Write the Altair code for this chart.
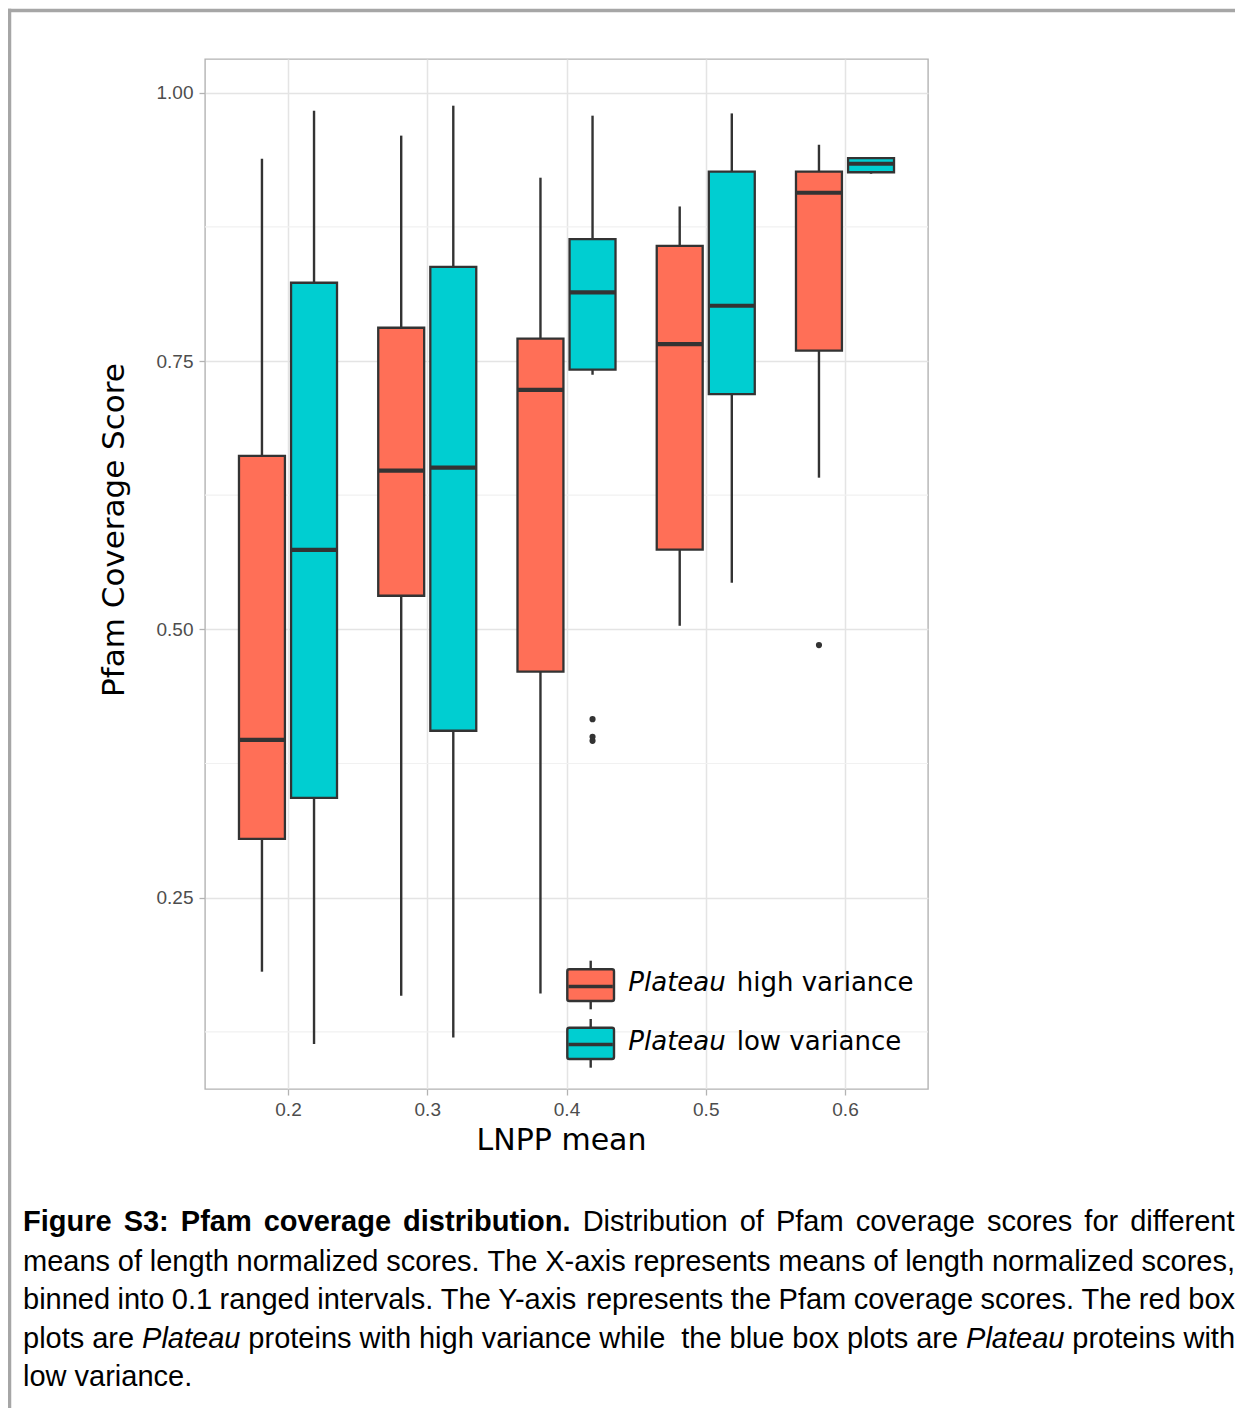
import altair as alt
import pandas as pd

# ---------------- data ----------------
bins = [0.2, 0.2, 0.3, 0.3, 0.4, 0.4, 0.5, 0.5, 0.6, 0.6]
groups = ["high", "low", "high", "low", "high", "low", "high", "low", "high", "low"]
lower = [0.181, 0.1136, 0.1586, 0.1198, 0.1607, 0.7372, 0.5033, 0.5434, 0.6413, 0.9245]
q1 = [0.3048, 0.343, 0.5313, 0.4055, 0.4605, 0.7419, 0.5742, 0.7192, 0.7596, 0.9259]
median = [0.397, 0.5741, 0.6478, 0.6506, 0.7232, 0.8139, 0.7658, 0.8015, 0.9068, 0.9338]
q3 = [0.6617, 0.8229, 0.781, 0.8378, 0.7708, 0.8635, 0.8572, 0.9264, 0.9264, 0.939]
upper = [0.9385, 0.9832, 0.96, 0.9879, 0.9208, 0.9786, 0.894, 0.9807, 0.9515, 0.939]

out_bins = [0.4, 0.4, 0.4, 0.6]
out_groups = ["low", "low", "low", "high"]
out_values = [0.4163, 0.3998, 0.3961, 0.4853]

x_ticks = [0.2, 0.3, 0.4, 0.5, 0.6]
y_ticks = [0.25, 0.50, 0.75, 1.00]
y_minor = [0.125, 0.375, 0.625, 0.875]

group_names = ["high", "low"]
group_colors = ["#FF6F57", "#00CED1"]
legend_words = ["high variance", "low variance"]

x_title = "LNPP mean"
y_title = "Pfam Coverage Score"

caption_lines = [
    [("Figure S3: Pfam coverage distribution.", "bold"),
     ("Distribution of Pfam coverage scores for different", "normal")],
    [("means of length normalized scores. The X-axis represents means of length normalized scores,", "normal")],
    [("binned into 0.1 ranged intervals. The Y-axis represents the Pfam coverage scores. The red box", "normal")],
    [("plots are", "normal"), ("Plateau", "italic"),
     ("proteins with high variance while  the blue box plots are", "normal"),
     ("Plateau", "italic"), ("proteins with", "normal")],
    [("low variance.", "normal")],
]
caption_justified = [True, True, True, True, False]

# ---------------- tables ----------------
box_df = pd.DataFrame({"bin": bins, "group": groups, "lower": lower, "q1": q1,
                       "median": median, "q3": q3, "upper": upper})
out_df = pd.DataFrame({"bin": out_bins, "group": out_groups, "value": out_values})
minor_df = pd.DataFrame({"v": y_minor})
one = pd.DataFrame({"a": [0]})

DODGE = 0.0187
HALF = 0.0165
INK = "#333333"

xscale = alt.Scale(domain=[0.1404, 0.6596], nice=False, zero=False)
yscale = alt.Scale(domain=[0.0717, 1.0314], nice=False, zero=False)
fill_scale = alt.Scale(domain=group_names, range=group_colors)

x_axis = alt.Axis(values=x_ticks, format=".1f", title=x_title, grid=True,
                  gridColor="#e4e4e4", gridWidth=1.5, domain=False,
                  tickColor="#b3b3b3", tickSize=6, tickWidth=1.3,
                  labelFont="Liberation Sans", labelFontSize=19, labelColor="#4d4d4d",
                  labelPadding=5,
                  titleFont="DejaVu Sans", titleFontSize=30, titleFontWeight="normal",
                  titleColor="black", titleX=356, titleY=60, titleAlign="center",
                  titleBaseline="alphabetic")
y_axis = alt.Axis(values=y_ticks, format=".2f", title=y_title, grid=True,
                  gridColor="#e4e4e4", gridWidth=1.5, domain=False,
                  tickColor="#b3b3b3", tickSize=6, tickWidth=1.3,
                  labelFont="Liberation Sans", labelFontSize=19, labelColor="#4d4d4d",
                  labelPadding=6,
                  titleFont="DejaVu Sans", titleFontSize=31, titleFontWeight="normal",
                  titleColor="black", titleX=-82, titleY=470.5, titleAlign="center",
                  titleBaseline="alphabetic")

base = alt.Chart(box_df).transform_calculate(
    pos=f"datum.bin + (datum.group == 'high' ? -{DODGE} : {DODGE})"
).transform_calculate(
    left=f"datum.pos - {HALF}", right=f"datum.pos + {HALF}"
)

minor = alt.Chart(minor_df).mark_rule(color="#f1f1f1", strokeWidth=1.2).encode(
    y=alt.Y("v:Q", scale=yscale, axis=y_axis)
)

whisk_hi = base.mark_rule(color=INK, strokeWidth=2.4).encode(
    x=alt.X("pos:Q", scale=xscale, axis=x_axis),
    y=alt.Y("q3:Q", scale=yscale, axis=y_axis),
    y2="upper:Q",
)
whisk_lo = base.mark_rule(color=INK, strokeWidth=2.4).encode(
    x=alt.X("pos:Q", scale=xscale, axis=x_axis),
    y=alt.Y("lower:Q", scale=yscale, axis=y_axis),
    y2="q1:Q",
)
boxes = base.mark_rect(stroke=INK, strokeWidth=2.3).encode(
    x=alt.X("left:Q", scale=xscale, axis=x_axis),
    x2="right:Q",
    y=alt.Y("q1:Q", scale=yscale, axis=y_axis),
    y2="q3:Q",
    fill=alt.Fill("group:N", scale=fill_scale, legend=None),
)
medians = base.mark_rule(color=INK, strokeWidth=4.2).encode(
    x=alt.X("left:Q", scale=xscale, axis=x_axis),
    x2="right:Q",
    y=alt.Y("median:Q", scale=yscale, axis=y_axis),
)
outliers = alt.Chart(out_df).transform_calculate(
    pos=f"datum.bin + (datum.group == 'high' ? -{DODGE} : {DODGE})"
).mark_circle(size=38, color=INK, opacity=1).encode(
    x=alt.X("pos:Q", scale=xscale, axis=x_axis),
    y=alt.Y("value:Q", scale=yscale, axis=y_axis),
)

layers = [minor, whisk_hi, whisk_lo, boxes, medians, outliers]

# ---------------- manual legend (inside panel, bottom right) ----------------
leg_rows = [
    {"top": 910.3, "bottom": 942.0, "mid": 927.5, "wt": 901.7, "wb": 950.3, "base": 931.7},
    {"top": 968.7, "bottom": 1000.0, "mid": 985.5, "wt": 960.0, "wb": 1008.7, "base": 991.0},
]
for row, color, word in zip(leg_rows, group_colors, legend_words):
    layers.append(alt.Chart(one).mark_rule(color=INK, strokeWidth=2.4).encode(
        x=alt.value(385.7), y=alt.value(row["wt"]), y2=alt.value(row["wb"])))
    layers.append(alt.Chart(one).mark_rect(fill=color, stroke=INK, strokeWidth=2.4,
                                           cornerRadius=2).encode(
        x=alt.value(362.3), x2=alt.value(409.0),
        y=alt.value(row["top"]), y2=alt.value(row["bottom"])))
    layers.append(alt.Chart(one).mark_rule(color=INK, strokeWidth=3.5).encode(
        x=alt.value(363.5), x2=alt.value(407.8), y=alt.value(row["mid"])))
    layers.append(alt.Chart(one).mark_text(text="Plateau", font="DejaVu Sans", fontSize=26,
                                           fontStyle="italic", align="left",
                                           baseline="alphabetic", color="black").encode(
        x=alt.value(423.3), y=alt.value(row["base"])))
    layers.append(alt.Chart(one).mark_text(text=word, font="DejaVu Sans", fontSize=26,
                                           align="left", baseline="alphabetic",
                                           color="black").encode(
        x=alt.value(531.7), y=alt.value(row["base"])))

# ---------------- caption (justified, word by word) ----------------
CAP_FONT = "Liberation Sans"
CAP_SIZE = 29
CAP_LEFT = 23 - 205      # page x 23
CAP_RIGHT = 1235 - 205   # page x 1235
CAP_Y = [1163, 1203, 1241, 1280, 1318]

REG = {"a": 556, "b": 556, "c": 500, "d": 556, "e": 556, "f": 278, "g": 556, "h": 556,
       "i": 222, "j": 222, "k": 500, "l": 222, "m": 833, "n": 556, "o": 556, "p": 556,
       "q": 556, "r": 333, "s": 500, "t": 278, "u": 556, "v": 500, "w": 722, "x": 500,
       "y": 500, "z": 500, "D": 722, "F": 611, "P": 667, "S": 667, "T": 611, "X": 667,
       "Y": 667, ".": 278, ",": 278, ":": 278, "-": 333, " ": 278}
BOLD = {"a": 556, "b": 611, "c": 556, "d": 611, "e": 556, "f": 333, "g": 611, "h": 611,
        "i": 278, "l": 278, "m": 889, "n": 611, "o": 611, "r": 389, "s": 556, "t": 333,
        "u": 611, "v": 556, "F": 611, "P": 667, "S": 667, ".": 278, ":": 333, " ": 278}


def word_width(word, style):
    table = BOLD if style == "bold" else REG
    return sum(table.get(c, 556) for c in word) / 1000.0 * CAP_SIZE


cap_rows = []
for li, (segments, justified) in enumerate(zip(caption_lines, caption_justified)):
    words = []   # (word, style, spaces before)
    pending = 0
    for si, (seg, style) in enumerate(segments):
        if si > 0:
            pending += 1
        for tok in seg.split(" "):
            if tok == "":
                pending += 1
                continue
            words.append((tok, style, pending if words else 0))
            pending = 1
        pending = 0
    total = sum(word_width(w, s) for w, s, _ in words)
    n_spaces = sum(k for _, _, k in words)
    if justified and n_spaces:
        space = (CAP_RIGHT - CAP_LEFT - total) / n_spaces
    else:
        space = 0.278 * CAP_SIZE
    x = CAP_LEFT
    for w, s, k in words:
        x += k * space
        cap_rows.append({"word": w, "style": s, "px": x, "py": CAP_Y[li]})
        x += word_width(w, s)

cap_df = pd.DataFrame(cap_rows)
for style in ["normal", "bold", "italic"]:
    sub = cap_df[cap_df["style"] == style]
    layers.append(alt.Chart(sub).mark_text(
        font=CAP_FONT, fontSize=CAP_SIZE,
        fontWeight="bold" if style == "bold" else "normal",
        fontStyle="italic" if style == "italic" else "normal",
        align="left", baseline="middle", color="black",
    ).encode(
        x=alt.X("px:Q", scale=None),
        y=alt.Y("py:Q", scale=None),
        text="word:N",
    ))

# ---------------- page frame ----------------
FRAME = "#a6a6a6"
layers.append(alt.Chart(one).mark_rule(color=FRAME, strokeWidth=3.5).encode(
    x=alt.value(-197), x2=alt.value(1030), y=alt.value(-48.5)))
layers.append(alt.Chart(one).mark_rule(color=FRAME, strokeWidth=3.5).encode(
    x=alt.value(-195.5), y=alt.value(-50.2), y2=alt.value(1349)))

chart = alt.layer(*layers).properties(
    width=723, height=1030,
    autosize=alt.AutoSizeParams(type="none"),
    padding={"left": 197, "top": 51, "right": 307, "bottom": 319},
).configure_view(stroke="#b3b3b3", strokeWidth=1.4)

chart.save("out.html", embed_options={"renderer": "svg", "actions": False})
